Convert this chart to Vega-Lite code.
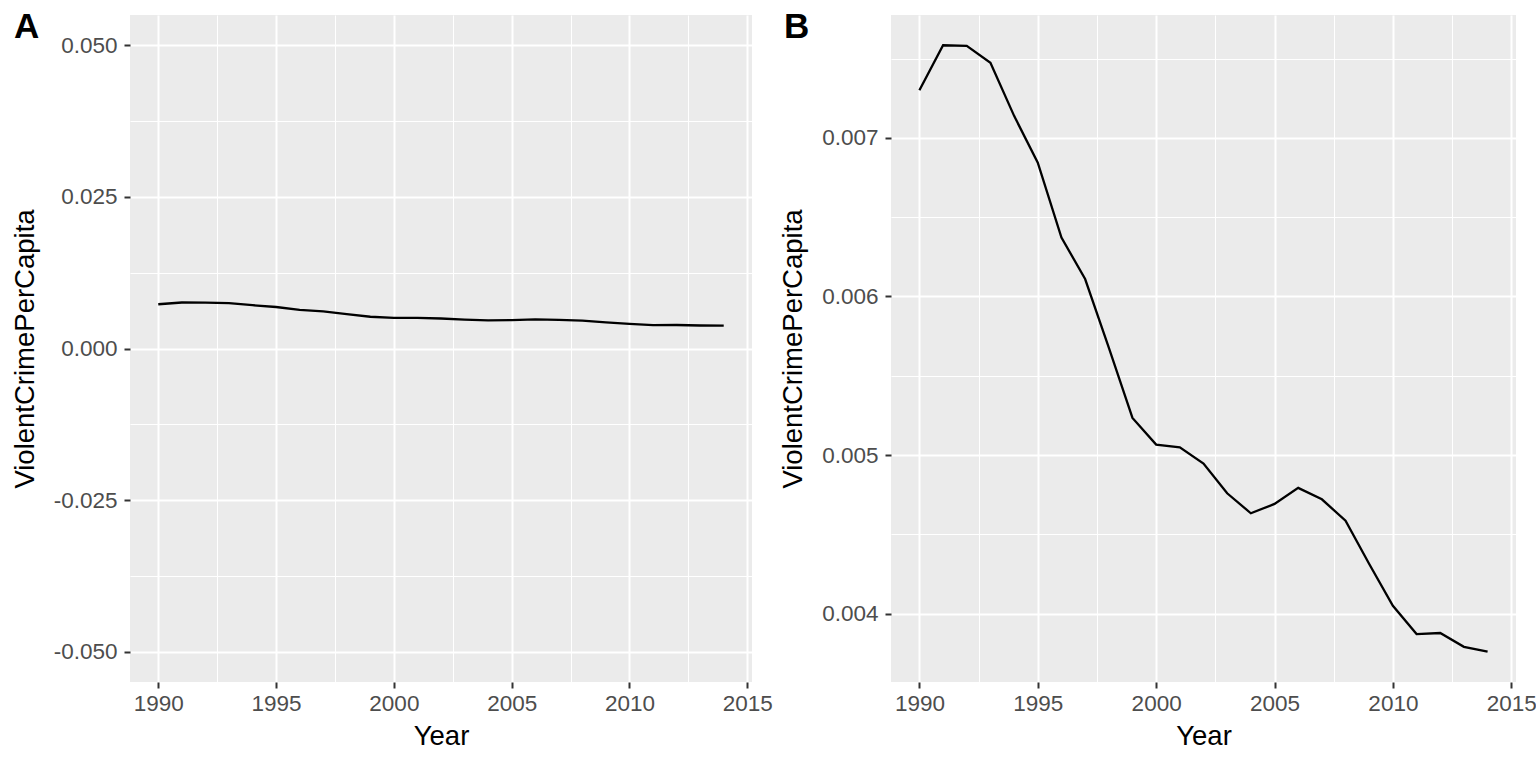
{
  "$schema": "https://vega.github.io/schema/vega-lite/v6.json",
  "background": "white",
  "padding": {"left": 11, "top": 10, "right": 0, "bottom": 0},
  "spacing": 6,
  "datasets": {
    "crime": [
      {"Year": 1990, "ViolentCrimePerCapita": 0.007301},
      {"Year": 1991, "ViolentCrimePerCapita": 0.007584},
      {"Year": 1992, "ViolentCrimePerCapita": 0.007580},
      {"Year": 1993, "ViolentCrimePerCapita": 0.007474},
      {"Year": 1994, "ViolentCrimePerCapita": 0.007139},
      {"Year": 1995, "ViolentCrimePerCapita": 0.006844},
      {"Year": 1996, "ViolentCrimePerCapita": 0.006372},
      {"Year": 1997, "ViolentCrimePerCapita": 0.006110},
      {"Year": 1998, "ViolentCrimePerCapita": 0.005678},
      {"Year": 1999, "ViolentCrimePerCapita": 0.005234},
      {"Year": 2000, "ViolentCrimePerCapita": 0.005066},
      {"Year": 2001, "ViolentCrimePerCapita": 0.005049},
      {"Year": 2002, "ViolentCrimePerCapita": 0.004946},
      {"Year": 2003, "ViolentCrimePerCapita": 0.004759},
      {"Year": 2004, "ViolentCrimePerCapita": 0.004633},
      {"Year": 2005, "ViolentCrimePerCapita": 0.004692},
      {"Year": 2006, "ViolentCrimePerCapita": 0.004793},
      {"Year": 2007, "ViolentCrimePerCapita": 0.004721},
      {"Year": 2008, "ViolentCrimePerCapita": 0.004586},
      {"Year": 2009, "ViolentCrimePerCapita": 0.004313},
      {"Year": 2010, "ViolentCrimePerCapita": 0.004050},
      {"Year": 2011, "ViolentCrimePerCapita": 0.003871},
      {"Year": 2012, "ViolentCrimePerCapita": 0.003878},
      {"Year": 2013, "ViolentCrimePerCapita": 0.003791},
      {"Year": 2014, "ViolentCrimePerCapita": 0.003760}
    ]
  },
  "hconcat": [
    {
      "width": 622, "height": 667,
      "data": {"name": "crime"},
      "title": {"text": "A", "anchor": "start", "frame": "group", "dx": -116, "offset": -30, "baseline": "top", "orient": "top"},
      "mark": {"type": "line", "color": "black", "strokeWidth": 2.3},
      "encoding": {
        "x": {
          "field": "Year", "type": "quantitative",
          "scale": {"domain": [1988.8, 2015.2], "nice": false, "zero": false},
          "axis": {
            "values": [1990, 1992.5, 1995, 1997.5, 2000, 2002.5, 2005, 2007.5, 2010, 2012.5, 2015],
            "labelExpr": "datum.value % 5 === 0 ? format(datum.value, 'd') : ''",
            "gridWidth": {"condition": {"test": "datum.value % 5 !== 0", "value": 1}, "value": 2},
            "tickOpacity": {"condition": {"test": "datum.value % 5 !== 0", "value": 0}, "value": 1}
          }
        },
        "y": {
          "field": "ViolentCrimePerCapita", "type": "quantitative",
          "scale": {"domain": [-0.055, 0.055], "nice": false, "zero": false},
          "axis": {
            "values": [-0.05, -0.0375, -0.025, -0.0125, 0, 0.0125, 0.025, 0.0375, 0.05],
            "labelExpr": "abs(datum.value * 40 - round(datum.value * 40)) > 0.01 ? '' : replace(format(datum.value, '.3f'), '\u2212', '-')",
            "gridWidth": {"condition": {"test": "abs(datum.value * 40 - round(datum.value * 40)) > 0.01", "value": 1}, "value": 2},
            "tickOpacity": {"condition": {"test": "abs(datum.value * 40 - round(datum.value * 40)) > 0.01", "value": 0}, "value": 1}
          }
        }
      }
    },
    {
      "width": 625, "height": 667,
      "data": {"name": "crime"},
      "title": {"text": "B", "anchor": "start", "frame": "group", "dx": -107, "offset": -30, "baseline": "top", "orient": "top"},
      "mark": {"type": "line", "color": "black", "strokeWidth": 2.3},
      "encoding": {
        "x": {
          "field": "Year", "type": "quantitative",
          "scale": {"domain": [1988.8, 2015.2], "nice": false, "zero": false},
          "axis": {
            "values": [1990, 1992.5, 1995, 1997.5, 2000, 2002.5, 2005, 2007.5, 2010, 2012.5, 2015],
            "labelExpr": "datum.value % 5 === 0 ? format(datum.value, 'd') : ''",
            "gridWidth": {"condition": {"test": "datum.value % 5 !== 0", "value": 1}, "value": 2},
            "tickOpacity": {"condition": {"test": "datum.value % 5 !== 0", "value": 0}, "value": 1}
          }
        },
        "y": {
          "field": "ViolentCrimePerCapita", "type": "quantitative",
          "scale": {"domain": [0.003569, 0.007775], "nice": false, "zero": false},
          "axis": {
            "values": [0.004, 0.0045, 0.005, 0.0055, 0.006, 0.0065, 0.007, 0.0075],
            "labelExpr": "abs(datum.value * 1000 - round(datum.value * 1000)) > 0.01 ? '' : format(datum.value, '.3f')",
            "gridWidth": {"condition": {"test": "abs(datum.value * 1000 - round(datum.value * 1000)) > 0.01", "value": 1}, "value": 2},
            "tickOpacity": {"condition": {"test": "abs(datum.value * 1000 - round(datum.value * 1000)) > 0.01", "value": 0}, "value": 1}
          }
        }
      }
    }
  ],
  "config": {
    "font": "Liberation Sans",
    "view": {"stroke": null, "fill": "#EBEBEB"},
    "title": {"font": "Liberation Sans", "fontSize": 35, "fontWeight": "bold", "color": "black"},
    "axis": {
      "domain": false,
      "grid": true,
      "gridColor": "white",
      "tickColor": "#333333",
      "tickSize": 6,
      "tickWidth": 2,
      "labelFont": "Liberation Sans",
      "labelFontSize": 22.5,
      "labelColor": "#4D4D4D",
      "labelPadding": 4,
      "labelFlush": false,
      "labelOverlap": false,
      "titleFont": "Liberation Sans",
      "titleFontSize": 27.5,
      "titleFontWeight": "normal",
      "titleColor": "black"
    },
    "axisX": {"titlePadding": 8},
    "axisY": {"titlePadding": 14, "labelPadding": 7}
  }
}
